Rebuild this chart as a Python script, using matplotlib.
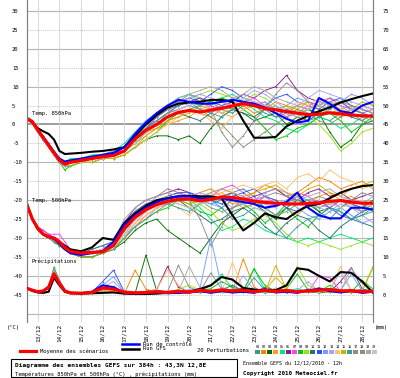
import matplotlib
matplotlib.use('Agg')
import matplotlib.pyplot as plt
from matplotlib.lines import Line2D
from matplotlib.patches import Rectangle

# Échéances (heures depuis le 12/12/2010 12h)
hours = [0, 6, 12, 18, 24, 30, 36, 42, 48, 60, 72, 84, 96, 108, 120, 132, 144, 156, 168,
         180, 192, 204, 216, 228, 240, 252, 264, 276, 288, 300, 312, 324, 336, 348, 360, 372, 384]
day_hours = [12, 36, 60, 84, 108, 132, 156, 180, 204, 228, 252, 276, 300, 324, 348, 372]
day_labels = ['13/12', '14/12', '15/12', '16/12', '17/12', '18/12', '19/12', '20/12',
              '21/12', '22/12', '23/12', '24/12', '25/12', '26/12', '27/12', '28/12']

# Température 850 hPa (°C)
mean_850 = [1.5, 0.7, -1.5, -3.5, -5.5, -7.5, -9.5, -10.5, -10, -9.5, -9, -8.5, -8.2, -7, -3.8, -1.5,
            0, 2, 3.2, 3.7, 3.3, 3.8, 4.3, 4.9, 5.5, 5, 4.2, 3.9, 3.4, 3.0, 2.6, 2.7, 3.1, 2.8, 2.5, 2.3, 2.2]
gfs_850 = [1.5, 0.5, -1, -1.8, -2.5, -4, -7, -7.8, -7.7, -7.5, -7.2, -7, -6.6, -6, -3, 0,
           2.5, 4.5, 5.5, 5.8, 6, 6.5, 6.5, 6, 1, -3.5, -3.5, -3.3, -0.5, 1, 2.3, 3.5, 4.5, 5.8, 6.7, 7.5, 8.2]
ctrl_850 = [1.5, 0.7, -1.5, -3.3, -5.3, -7.3, -9, -9.8, -9.5, -9, -8.5, -8, -7.5, -6, -2.5, 0.5,
            3, 5, 6.5, 6, 5.5, 5.5, 6, 6.5, 6, 5.5, 4.5, 3, 1.5, 0.5, 1, 7, 5.5, 3.5, 3, 5, 6]

# Température 500 hPa (°C)
mean_500 = [-21.3, -25, -27.5, -29, -29.7, -30, -31, -32.5, -33.5, -34, -33.8, -33.6, -32, -27.5, -24.5,
            -22.5, -21.2, -20.3, -19.8, -19.7, -20.2, -19.8, -19.2, -19.3, -19.7, -20.3, -20.6, -20.8,
            -21, -21, -20.9, -20.7, -20.3, -20.1, -20.5, -20.8, -20.8]
gfs_500 = [-21.3, -25, -27.5, -29, -29.7, -30, -31, -32, -33, -33.5, -32.5, -30, -30.5, -26, -23.5,
           -21.5, -20, -19.5, -19, -18.8, -19, -19, -19.5, -24, -28, -26, -23.5, -24.5, -25, -23,
           -21.5, -21, -19.5, -18, -17, -16.3, -16]
ctrl_500 = [-21.3, -25, -27.5, -29, -29.7, -30.3, -31.5, -33, -34, -34.5, -34, -33.5, -31, -26.5, -24,
            -22, -20.5, -19.5, -19, -19, -19.5, -19.5, -19.5, -20, -20.5, -21, -22, -21.5, -20.5, -18,
            -22, -24, -24.8, -24.8, -22, -22, -22.5]

# Précipitations (mm)
mean_rr = [1.7, 1.2, 0.8, 1.0, 2.0, 5.5, 3.0, 1.0, 0.5, 0.4, 0.6, 1.8, 1.5, 0.7, 0.5, 0.6, 0.8, 0.6, 0.9,
           0.7, 1.2, 0.9, 1.3, 1.0, 1.2, 0.8, 1.2, 0.9, 1.1, 0.8, 1.0, 1.2, 1.4, 1.0, 1.1, 0.8, 0.9]
gfs_rr = [1.7, 1.0, 0.6, 0.5, 0.8, 4.5, 2.5, 0.8, 0.4, 0.3, 0.4, 0.5, 0.6, 0.3, 0.2, 0.2, 0.3, 0.5, 0.8,
          0.8, 1.5, 2.5, 4.7, 4.0, 1.8, 1.4, 1.0, 1.2, 2.5, 7.0, 6.6, 5.0, 3.5, 6.0, 5.8, 3.5, 0.5]
ctrl_rr = [1.7, 1.2, 0.8, 1.0, 2.0, 5.0, 3.0, 0.8, 0.5, 0.4, 0.8, 2.5, 2.0, 0.5, 0.3, 0.5, 0.6, 0.4, 0.5,
           0.6, 1.0, 0.5, 1.0, 0.6, 0.8, 0.5, 1.5, 0.6, 0.8, 0.5, 1.2, 1.5, 1.0, 0.6, 1.0, 0.5, 0.8]

# 20 perturbations
pert_colors = ['#2e9a9a', '#ff8000', '#007000', '#ff9a20', '#00e878', '#8b1a8b', '#ff40ff',
               '#00c800', '#9ae020', '#2a7070', '#3050ff', '#70a0ff', '#a8a0ff', '#ffc070',
               '#d0b000', '#3a9aa8', '#7a9a70', '#8c8c8c', '#a8a8a8', '#c4c4c4']

pert_850 = [
    [2, 1, -2, -4, -6, -8, -10, -11, -10, -10, -9, -9, -8, -7, -3, -1, 1, 3, 5, 6, 5, 6, 4, 3, 5, 6, 4, 2, 3, 5, 4, 2, 1, 3, 4, 3, 2],
    [2, 1, -1, -3, -5, -7, -9, -10, -10, -9, -9, -8, -8, -6, -4, -2, -1, 1, 2, 4, 3, 2, 4, 6, 5, 3, 4, 6, 5, 3, 4, 6, 5, 4, 3, 5, 4],
    [2, 1, -2, -4, -6, -8, -10, -11, -11, -10, -10, -9, -9, -8, -6, -4, -3, -3, -4, -3, -5, -1, 2, 4, 3, 1, 2, 3, 0, 2, 4, 3, -2, -6, -4, 0, 1],
    [2, 0, -2, -4, -6, -8, -10, -11, -10, -10, -9, -9, -8, -7, -5, -3, -1, 0, 1, 2, 4, 5, 3, 2, 4, 5, 6, 4, 3, 5, 6, 4, 3, 4, 5, 3, 4],
    [2, 1, -1, -3, -5, -7, -9, -10, -9, -9, -8, -8, -7, -5, -2, 1, 3, 5, 7, 8, 6, 5, 7, 8, 6, 4, 2, 1, -1, -2, 0, 2, 1, -1, 0, 2, 1],
    [2, 1, -2, -4, -6, -8, -10, -10, -10, -9, -9, -8, -8, -7, -4, -1, 2, 4, 5, 6, 7, 6, 5, 6, 8, 7, 9, 10, 13, 9, 7, 6, 5, 6, 4, 5, 6],
    [2, 1, -2, -4, -6, -8, -10, -11, -10, -10, -9, -8, -8, -6, -3, 0, 1, 3, 4, 5, 6, 5, 4, 5, 6, 7, 5, 4, 2, 3, 5, 6, 7, 5, 4, 3, 4],
    [2, 1, -2, -4, -6, -8, -10, -12, -11, -10, -10, -9, -9, -8, -6, -4, -2, 1, 3, 4, 5, 6, 7, 6, 4, 2, -1, -4, -3, -1, 0, 2, 3, 1, -2, 0, 2],
    [2, 1, -1, -3, -5, -7, -9, -10, -10, -9, -9, -8, -7, -6, -3, 0, 2, 4, 6, 7, 8, 9, 8, 7, 6, 8, 7, 5, 3, 4, 2, 0, -3, -7, -5, -2, -1],
    [2, 1, -2, -4, -6, -8, -10, -11, -10, -10, -9, -9, -8, -7, -5, -2, 0, 2, 3, 2, 1, 3, 5, 4, 3, 2, 4, 5, 3, 2, 1, 3, 5, 3, 2, 1, 3],
    [2, 1, -2, -4, -6, -8, -9, -10, -10, -9, -9, -8, -8, -6, -3, 0, 2, 4, 6, 7, 6, 8, 10, 9, 7, 6, 5, 7, 8, 6, 5, 4, 6, 7, 5, 4, 3],
    [2, 1, -2, -3, -5, -7, -9, -10, -10, -9, -9, -8, -7, -6, -2, 1, 3, 5, 6, 5, 4, 3, 5, 7, 6, 5, 6, 4, 5, 7, 6, 5, 4, 6, 8, 7, 5],
    [2, 1, -2, -4, -6, -8, -10, -10, -10, -10, -9, -9, -8, -7, -4, -2, 1, 3, 6, 7, 8, 7, 6, 5, 7, 9, 8, 6, 4, 5, 7, 9, 8, 7, 6, 5, 4],
    [2, 1, -2, -4, -6, -8, -10, -11, -10, -10, -10, -9, -9, -8, -6, -4, -2, 0, 2, 4, 3, 1, -1, 2, 4, 6, 5, 3, 4, 6, 5, 7, 6, 4, 3, 5, 6],
    [2, 1, -2, -4, -6, -8, -10, -11, -11, -10, -10, -9, -9, -8, -6, -3, -1, 1, 2, 3, 5, 4, 3, 4, 6, 5, 4, 3, 5, 4, 6, 5, 3, 2, 4, 6, 5],
    [2, 1, -2, -4, -6, -8, -10, -10, -10, -9, -9, -9, -8, -7, -4, -1, 1, 3, 5, 6, 4, 3, 2, 4, 6, 5, 3, 2, 4, 3, 1, 2, 4, 6, 4, 3, 2],
    [2, 1, -2, -4, -6, -8, -10, -11, -10, -10, -9, -9, -8, -7, -5, -2, 0, 3, 4, 5, 4, 2, 0, -3, -6, -4, -2, 0, 2, 4, 3, 1, 0, 2, 3, 1, 0],
    [2, 1, -2, -4, -6, -8, -10, -11, -10, -10, -9, -8, -8, -7, -4, -1, 2, 4, 6, 8, 7, 4, -2, -6, -3, 1, 4, 8, 11, 9, 6, 5, 7, 6, 5, 4, 3],
    [2, 1, -2, -4, -6, -8, -9, -10, -10, -9, -9, -8, -7, -6, -3, 0, 3, 5, 7, 8, 9, 10, 9, 7, 8, 10, 9, 7, 6, 5, 4, 5, 6, 5, 3, 2, 1],
    [2, 1, -2, -4, -6, -8, -10, -11, -10, -10, -9, -9, -8, -7, -5, -2, 0, 2, 4, 5, 6, 4, 3, 5, 7, 6, 4, 5, 3, 2, 4, 6, 5, 3, 4, 5, 3],
]

pert_500 = [
    [-21, -25, -27, -29, -30, -30, -31, -33, -34, -34, -34, -33, -31, -26, -23, -21, -20, -19, -18, -19, -20, -21, -20, -18, -17, -19, -22, -24, -21, -19, -20, -23, -25, -22, -20, -21, -23],
    [-21, -25, -28, -29, -30, -31, -32, -33, -34, -35, -35, -34, -33, -30, -27, -24, -22, -21, -20, -19, -18, -17, -19, -21, -20, -18, -16, -17, -19, -18, -16, -14, -15, -17, -16, -15, -17],
    [-21, -25, -27, -29, -30, -31, -32, -33, -34, -35, -35, -34, -33, -31, -28, -26, -25, -28, -30, -32, -34, -30, -26, -24, -22, -21, -23, -25, -22, -20, -21, -23, -22, -20, -21, -22, -20],
    [-21, -25, -28, -29, -30, -30, -31, -32, -33, -34, -34, -33, -32, -28, -25, -23, -21, -20, -21, -22, -21, -19, -18, -20, -22, -21, -19, -20, -22, -24, -21, -19, -18, -20, -19, -21, -22],
    [-21, -25, -27, -29, -29, -30, -31, -32, -33, -34, -34, -33, -32, -27, -24, -22, -21, -20, -19, -20, -22, -25, -28, -27, -25, -26, -28, -29, -30, -31, -30, -31, -30, -29, -30, -31, -30],
    [-21, -25, -27, -28, -29, -30, -31, -32, -33, -34, -33, -32, -31, -26, -22, -20, -19, -18, -17, -18, -19, -20, -19, -18, -20, -19, -18, -17, -19, -20, -18, -17, -19, -18, -20, -19, -18],
    [-21, -25, -27, -28, -29, -29, -29, -31, -33, -34, -34, -33, -32, -28, -24, -22, -20, -19, -18, -19, -20, -19, -17, -16, -18, -20, -19, -21, -20, -18, -19, -21, -22, -20, -21, -23, -22],
    [-21, -25, -28, -29, -30, -31, -32, -33, -34, -35, -35, -34, -33, -30, -27, -25, -23, -22, -20, -21, -23, -24, -22, -20, -21, -23, -26, -24, -22, -25, -27, -24, -22, -23, -25, -24, -22],
    [-21, -25, -27, -29, -30, -30, -31, -32, -34, -35, -35, -34, -33, -29, -25, -22, -20, -19, -19, -20, -21, -23, -26, -28, -27, -25, -24, -26, -29, -31, -32, -31, -32, -33, -32, -31, -32],
    [-21, -25, -27, -29, -30, -31, -32, -33, -34, -34, -34, -33, -32, -28, -24, -22, -21, -20, -20, -22, -24, -26, -25, -23, -22, -24, -27, -29, -26, -24, -25, -28, -30, -27, -25, -26, -27],
    [-21, -25, -27, -29, -30, -30, -31, -32, -33, -34, -34, -33, -31, -26, -23, -21, -20, -19, -18, -18, -19, -20, -21, -19, -18, -17, -19, -20, -22, -23, -21, -20, -22, -24, -25, -23, -22],
    [-21, -25, -28, -29, -30, -31, -31, -32, -33, -34, -34, -33, -32, -29, -27, -25, -22, -21, -20, -19, -20, -21, -22, -20, -19, -21, -22, -21, -20, -22, -24, -25, -23, -22, -24, -26, -25],
    [-21, -25, -27, -29, -30, -30, -31, -32, -33, -34, -34, -34, -33, -30, -26, -23, -21, -20, -19, -19, -18, -19, -20, -22, -21, -20, -21, -22, -20, -19, -21, -22, -23, -21, -22, -24, -26],
    [-21, -25, -27, -29, -30, -31, -31, -32, -33, -34, -34, -33, -32, -29, -26, -24, -22, -21, -22, -24, -21, -19, -18, -17, -16, -17, -16, -15, -17, -14, -13, -15, -12, -14, -15, -17, -16],
    [-21, -25, -27, -29, -30, -30, -31, -33, -34, -35, -35, -34, -32, -27, -24, -22, -20, -19, -20, -21, -20, -18, -17, -18, -19, -18, -17, -16, -18, -19, -17, -16, -18, -19, -17, -16, -15],
    [-21, -25, -27, -29, -30, -30, -31, -32, -33, -34, -33, -32, -31, -27, -24, -22, -21, -21, -22, -23, -21, -20, -22, -25, -24, -22, -23, -27, -30, -27, -25, -24, -22, -23, -25, -24, -23],
    [-21, -25, -27, -29, -30, -31, -32, -33, -34, -35, -35, -34, -33, -30, -27, -25, -23, -21, -20, -19, -20, -22, -23, -22, -21, -20, -22, -24, -23, -21, -20, -22, -21, -20, -22, -23, -21],
    [-21, -25, -27, -29, -30, -30, -31, -32, -34, -34, -34, -33, -32, -28, -25, -22, -19, -17, -18, -20, -25, -32, -27, -22, -20, -21, -19, -18, -19, -21, -20, -19, -20, -22, -20, -18, -19],
    [-21, -25, -27, -29, -30, -30, -31, -32, -33, -34, -34, -33, -31, -25, -22, -20, -19, -18, -19, -20, -19, -18, -17, -18, -19, -20, -18, -17, -18, -20, -19, -18, -17, -19, -20, -21, -19],
    [-21, -25, -27, -29, -30, -30, -31, -32, -33, -34, -34, -33, -32, -29, -25, -23, -21, -20, -21, -22, -21, -20, -19, -20, -21, -22, -23, -21, -20, -21, -22, -20, -21, -22, -21, -20, -22],
]

pert_rr = [
    [1.7, 1.2, 0.8, 1.0, 2.2, 6.0, 3.0, 0.8, 0.4, 0.3, 0.8, 2.5, 1.5, 0.4, 0.3, 0.5, 0.8, 0.4, 0.6, 0.9, 1.3, 0.7, 0.9, 1.2, 0.6, 0.8, 1.4, 0.7, 0.5, 1.1, 0.8, 1.9, 1.2, 0.7, 1.3, 0.8, 0.6],
    [1.7, 1.1, 0.7, 0.9, 1.8, 5.0, 3.5, 1.2, 0.5, 0.4, 0.5, 1.0, 0.8, 0.3, 6.5, 1.5, 0.6, 0.8, 1.2, 0.7, 0.5, 0.9, 1.4, 0.8, 9.5, 2.0, 0.6, 0.9, 1.2, 0.7, 1.0, 1.4, 0.6, 0.8, 1.1, 0.7, 0.9],
    [1.7, 1.3, 0.9, 1.1, 2.1, 5.5, 3.2, 1.0, 0.5, 0.3, 0.6, 1.2, 1.6, 0.5, 0.4, 10.5, 1.0, 0.8, 0.5, 0.7, 1.5, 0.9, 0.6, 1.0, 1.8, 0.8, 0.5, 0.9, 0.6, 1.2, 0.8, 0.5, 0.9, 0.7, 1.2, 0.8, 0.6],
    [1.7, 1.2, 0.8, 1.0, 1.9, 5.2, 3.0, 0.9, 0.4, 0.5, 0.7, 1.5, 1.3, 0.4, 0.6, 0.8, 0.5, 0.9, 0.7, 0.5, 0.8, 1.2, 0.7, 0.5, 0.9, 1.3, 0.6, 1.8, 0.9, 0.6, 1.0, 0.7, 1.2, 0.8, 0.5, 0.9, 1.1],
    [1.7, 1.2, 0.8, 1.0, 2.0, 5.8, 3.3, 1.1, 0.5, 0.4, 0.6, 1.6, 2.2, 0.6, 0.4, 0.7, 1.0, 0.6, 0.9, 1.2, 0.8, 2.5, 5.5, 1.5, 0.9, 7.0, 1.2, 0.8, 1.1, 1.6, 0.9, 0.7, 1.4, 0.9, 1.0, 1.3, 0.8],
    [1.7, 1.2, 0.8, 1.0, 2.0, 6.2, 3.4, 1.0, 0.6, 0.4, 0.5, 1.3, 1.8, 0.5, 0.5, 0.9, 1.4, 7.5, 2.0, 0.8, 0.6, 0.9, 1.1, 0.7, 1.2, 0.8, 1.0, 0.7, 1.3, 0.9, 1.2, 1.8, 0.8, 3.5, 7.2, 1.5, 0.8],
    [1.7, 1.2, 0.8, 1.0, 2.0, 5.4, 2.9, 0.9, 0.5, 0.4, 0.6, 1.4, 1.9, 0.6, 0.4, 0.8, 0.6, 0.9, 1.3, 0.7, 0.9, 1.1, 0.8, 1.2, 0.6, 0.9, 1.3, 0.8, 1.4, 1.0, 0.7, 5.0, 4.5, 1.0, 0.8, 1.2, 0.7],
    [1.7, 1.2, 0.8, 1.0, 2.3, 7.3, 3.6, 1.2, 0.6, 0.5, 0.7, 1.8, 1.4, 0.5, 0.6, 0.9, 1.2, 0.8, 1.0, 0.7, 1.1, 1.6, 3.5, 2.0, 1.0, 6.8, 2.5, 0.9, 1.6, 5.5, 1.2, 0.8, 2.5, 1.0, 0.8, 3.8, 1.5],
    [1.7, 1.2, 0.8, 1.0, 2.1, 5.6, 3.1, 1.0, 0.5, 0.4, 0.6, 1.2, 1.5, 0.5, 0.4, 0.6, 0.8, 0.5, 1.5, 2.5, 1.2, 0.8, 1.1, 0.7, 1.5, 0.9, 1.2, 4.5, 2.0, 7.5, 2.5, 1.0, 1.5, 1.2, 0.8, 1.0, 7.0],
    [1.7, 1.2, 0.8, 1.0, 2.0, 5.0, 2.8, 0.9, 0.5, 0.4, 0.5, 1.1, 1.7, 0.4, 0.5, 0.7, 0.9, 0.6, 0.8, 1.0, 0.7, 0.9, 1.3, 2.5, 1.0, 0.8, 2.0, 1.1, 0.8, 0.6, 1.5, 0.9, 0.7, 1.1, 0.9, 1.4, 1.0],
    [1.7, 1.2, 0.8, 1.0, 2.0, 5.3, 3.0, 1.0, 0.5, 0.4, 0.6, 3.5, 6.5, 0.8, 0.4, 0.6, 0.8, 0.5, 0.7, 0.9, 1.0, 0.8, 1.2, 0.9, 0.7, 1.1, 0.8, 0.6, 1.0, 0.8, 1.2, 0.9, 1.5, 0.8, 1.0, 0.7, 0.9],
    [1.7, 1.2, 0.8, 1.0, 1.9, 5.7, 3.2, 1.0, 0.5, 0.4, 0.7, 2.5, 4.8, 0.6, 0.5, 0.7, 0.9, 0.6, 0.8, 1.1, 1.8, 15.0, 2.0, 1.0, 0.7, 0.9, 1.2, 0.8, 1.0, 0.7, 0.9, 1.3, 0.8, 1.1, 5.5, 1.0, 0.8],
    [1.7, 1.2, 0.8, 1.0, 2.0, 5.5, 3.0, 1.0, 0.5, 0.4, 0.6, 2.0, 3.5, 0.6, 0.5, 0.8, 1.0, 0.7, 0.9, 1.4, 1.0, 0.8, 1.1, 0.9, 5.0, 1.3, 0.8, 1.0, 0.7, 1.2, 3.5, 0.9, 1.4, 6.0, 1.0, 0.8, 1.2],
    [1.7, 1.2, 0.8, 1.0, 2.0, 5.1, 2.9, 0.9, 0.4, 0.3, 0.5, 1.0, 1.2, 0.4, 0.5, 0.6, 1.5, 6.5, 2.5, 0.7, 0.9, 1.2, 0.8, 8.5, 1.5, 0.7, 1.0, 5.0, 1.2, 0.8, 1.0, 0.7, 1.2, 7.5, 1.0, 0.8, 1.1],
    [1.7, 1.2, 0.8, 1.0, 2.1, 5.5, 3.1, 1.0, 0.5, 0.4, 0.6, 1.3, 1.6, 0.5, 0.5, 0.7, 0.9, 0.6, 0.8, 1.0, 0.8, 1.0, 1.5, 0.8, 1.2, 0.9, 0.7, 7.7, 1.5, 0.9, 1.2, 0.8, 1.0, 1.3, 0.9, 1.1, 7.5],
    [1.7, 1.2, 0.8, 1.0, 2.0, 5.9, 3.3, 1.1, 0.5, 0.4, 0.6, 1.5, 2.0, 0.5, 0.4, 0.7, 0.8, 0.6, 1.0, 0.8, 1.1, 0.9, 0.7, 1.0, 0.8, 4.5, 1.2, 0.9, 0.7, 1.0, 0.8, 1.2, 0.9, 0.7, 1.0, 0.9, 0.8],
    [1.7, 1.2, 0.8, 1.0, 2.0, 6.4, 3.5, 1.1, 0.5, 0.4, 0.6, 1.4, 1.7, 0.5, 0.4, 0.6, 0.8, 0.7, 1.1, 0.9, 0.7, 1.0, 0.8, 1.2, 0.9, 1.1, 0.8, 1.0, 1.3, 0.9, 0.8, 1.0, 1.2, 0.9, 0.8, 1.0, 0.9],
    [1.7, 1.2, 0.8, 1.0, 2.4, 7.0, 4.0, 1.3, 0.6, 0.5, 0.7, 1.5, 1.8, 0.5, 0.5, 0.8, 1.0, 0.8, 7.8, 2.0, 0.8, 5.8, 1.5, 0.9, 1.1, 0.8, 1.0, 0.7, 1.2, 0.9, 1.1, 0.8, 1.0, 1.2, 0.9, 0.7, 1.0],
    [1.7, 1.2, 0.8, 1.0, 2.2, 6.5, 3.8, 1.2, 0.6, 0.4, 0.6, 1.3, 1.5, 0.5, 0.4, 0.7, 0.9, 0.6, 0.9, 7.5, 2.0, 0.9, 1.2, 0.8, 1.0, 0.9, 0.7, 1.1, 0.8, 1.0, 0.9, 1.2, 0.8, 1.0, 7.0, 3.0, 1.0],
    [1.7, 1.2, 0.8, 1.0, 2.0, 5.6, 3.2, 1.0, 0.5, 0.4, 0.6, 1.4, 1.8, 0.5, 0.5, 0.7, 0.9, 0.6, 0.8, 1.0, 0.9, 1.0, 0.8, 1.1, 0.9, 1.0, 1.2, 0.8, 1.0, 0.9, 1.1, 0.8, 1.0, 0.9, 1.2, 1.0, 0.8],
]

mono = 'DejaVu Sans Mono'
W, H = 400, 378


def fx(x, y):
    return x / W, 1 - y / H


fig = plt.figure(figsize=(4, 3.78), dpi=100)
ax = fig.add_axes([27 / W, 1 - 322 / H, 346 / W, 322 / H])
ax.set_xlim(0, 384)
ax.set_ylim(-52.2, 32.9)

# grille
for v in range(-50, 35, 5):
    if v == 0:
        ax.axhline(v, color='#8c8c8c', lw=1.2, zorder=1)
    elif v % 10 == 0:
        ax.axhline(v, color='#b4b4b4', lw=0.8, zorder=1)
    else:
        ax.axhline(v, color='#c8c8c8', lw=0.7, ls=(0, (1, 1)), zorder=1)
for h in day_hours:
    ax.axvline(h, color='#d2d2d2', lw=0.6, zorder=1)

ax2 = ax.twinx()
ax2.set_ylim(-52.2 + 45, 32.9 + 45)

# perturbations
for i in range(20):
    ax.plot(hours, pert_850[i], color=pert_colors[i], lw=0.65, marker='o', ms=1.1, mew=0, zorder=2)
    ax.plot(hours, pert_500[i], color=pert_colors[i], lw=0.65, marker='o', ms=1.1, mew=0, zorder=2)
    ax2.plot(hours, pert_rr[i], color=pert_colors[i], lw=0.65, marker='o', ms=1.1, mew=0, zorder=2)

ax.plot(hours, gfs_850, color='black', lw=1.5, zorder=3)
ax.plot(hours, gfs_500, color='black', lw=1.5, zorder=3)
ax2.plot(hours, gfs_rr, color='black', lw=1.5, zorder=3)
ax.plot(hours, ctrl_850, color='#0000ff', lw=1.5, zorder=3)
ax.plot(hours, ctrl_500, color='#0000ff', lw=1.5, zorder=3)
ax2.plot(hours, ctrl_rr, color='#0000ff', lw=1.5, zorder=3)
ax.plot(hours, mean_850, color='#ff0000', lw=2.3, zorder=4)
ax.plot(hours, mean_500, color='#ff0000', lw=2.3, zorder=4)
ax2.plot(hours, mean_rr, color='#ff0000', lw=2.3, zorder=4)

ax.text(5, 2.8, 'Temp. 850hPa', fontsize=4, family=mono, va='center')
ax.text(5, -20.2, 'Temp. 500hPa', fontsize=4, family=mono, va='center')
ax.text(5, -36.1, 'Précipitations', fontsize=4, family=mono, va='center')

# axes
ax.set_yticks(range(-45, 35, 5))
ax.set_yticklabels([str(v) for v in range(-45, 35, 5)], family=mono, fontsize=4, ha='left')
ax.tick_params(axis='y', length=0, pad=10.8)
ax2.set_yticks(range(0, 80, 5))
ax2.set_yticklabels([str(v) for v in range(0, 80, 5)], family=mono, fontsize=4)
ax2.tick_params(axis='y', length=0, pad=7)
ax.set_xticks(day_hours)
ax.set_xticklabels(day_labels, rotation=90, family=mono, fontsize=4.3)
ax.tick_params(axis='x', length=0, pad=1)
for a in (ax, ax2):
    a.spines['top'].set_visible(False)
    a.spines['bottom'].set_visible(False)
    a.spines['left'].set_color('#808080')
    a.spines['right'].set_color('#808080')

# légende et titres
fig.text(*fx(13, 327), '(°C)', family=mono, fontsize=4, ha='center', va='center')
fig.text(*fx(381, 328), '(mm)', family=mono, fontsize=4, ha='center', va='center')

fig.add_artist(Line2D([20 / W, 36 / W], [1 - 351 / H] * 2, color='#ff0000', lw=2.3))
fig.text(*fx(40, 351), 'Moyenne des scénarios', family=mono, fontsize=4, va='center')
fig.add_artist(Line2D([122 / W, 139 / W], [1 - 344 / H] * 2, color='#0000ff', lw=1.8))
fig.text(*fx(143, 344), 'Run de contrôle', family=mono, fontsize=4, va='center')
fig.add_artist(Line2D([122 / W, 139 / W], [1 - 349 / H] * 2, color='black', lw=1.8))
fig.text(*fx(143, 349), 'Run GFS', family=mono, fontsize=4, va='center')
fig.text(*fx(197, 350), '20 Perturbations', family=mono, fontsize=4, va='center')
for i in range(20):
    x0 = 255 + i * 6.15
    fig.text(*fx(x0 + 2.5, 347), '%02d' % (i + 1), family=mono, fontsize=2.6, ha='center', va='center')
    fig.add_artist(Rectangle(fx(x0, 354), 5 / W, 4 / H, color=pert_colors[i], lw=0))

fig.add_artist(Rectangle(fx(11, 377), 226 / W, 18 / H, fill=False, edgecolor='black', lw=0.8))
fig.text(*fx(15, 366), 'Diagramme des ensembles GEFS sur 384h : 43,3N 12,8E',
         family=mono, fontsize=4.4, fontweight='bold', va='center')
fig.text(*fx(15, 374), 'Températures 850hPa et 500hPa (°C) , précipitations (mm)',
         family=mono, fontsize=3.9, va='center')
fig.text(*fx(243, 363), 'Ensemble GEFS du 12/12/2010 - 12h', family=mono, fontsize=3.6, va='center')
fig.text(*fx(243, 374), 'Copyright 2010 Meteociel.fr', family=mono, fontsize=4.2,
         fontweight='bold', va='center')

fig.savefig('out.png', dpi=100)
